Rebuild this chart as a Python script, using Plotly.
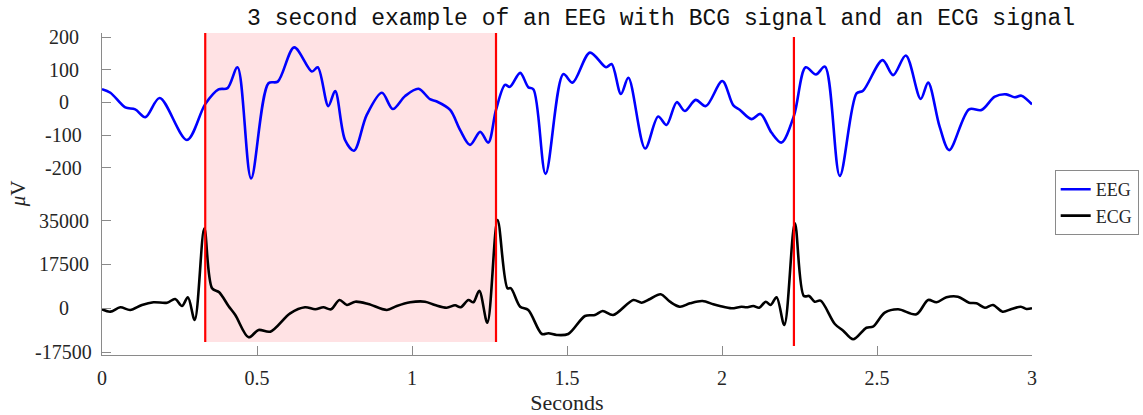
import plotly.graph_objects as go
from plotly.subplots import make_subplots

# EEG channel (µV) sampled along the 3 s window
eeg_t = [0, 0.027, 0.075, 0.107, 0.14, 0.186, 0.274, 0.333, 0.376, 0.405, 0.437, 0.481, 0.537, 0.567,
         0.620, 0.677, 0.696, 0.730, 0.752, 0.784, 0.813, 0.854, 0.903, 0.938, 0.978, 1.021, 1.058,
         1.080, 1.123, 1.155, 1.187, 1.220, 1.246, 1.271, 1.300, 1.316, 1.349, 1.375, 1.392, 1.431,
         1.488, 1.518, 1.574, 1.626, 1.644, 1.674, 1.698, 1.752, 1.794, 1.821, 1.854, 1.880, 1.915,
         1.948, 2.001, 2.036, 2.058, 2.095, 2.124, 2.160, 2.192, 2.232, 2.270, 2.303, 2.332, 2.380,
         2.434, 2.455, 2.518, 2.552, 2.593, 2.641, 2.665, 2.702, 2.733, 2.797, 2.837, 2.880, 2.917,
         2.944, 2.966, 3.0]
eeg_uv = [41, 30, -15, -21, -45, 14, -115, -5, 40, 44, 108, -233, 59, 64,
          169, 95, 108, -11, 35, -115, -148, -38, 30, -20, 20, 42, 10,
          3, -23, -84, -130, -90, -123, -23, 54, 48, 91, 47, 40, -219,
          87, 61, 153, 108, 118, 26, 76, -141, -43, -69, 1, -26, 8,
          -11, 66, -8, -23, -51, -35, -93, -123, -41, 108, 86, 110, -225,
          28, 36, 130, 84, 144, 11, 61, -74, -146, -21, -23, 18, 25,
          16, 21, -6]

# ECG channel (µV)
ecg_t = [0, 0.027, 0.059, 0.091, 0.129, 0.166, 0.210, 0.236, 0.258, 0.277,
         0.299, 0.330, 0.355, 0.378, 0.408, 0.430, 0.473, 0.505, 0.543, 0.607,
         0.655, 0.688, 0.714, 0.739, 0.766, 0.790, 0.817, 0.859, 0.919, 0.951,
         0.994, 1.042, 1.074, 1.112, 1.139, 1.157, 1.182, 1.198, 1.217, 1.243,
         1.276, 1.308, 1.319, 1.349, 1.375, 1.419, 1.440, 1.467, 1.504, 1.558,
         1.590, 1.615, 1.649, 1.714, 1.741, 1.768, 1.802, 1.832, 1.864, 1.897,
         1.937, 1.972, 1.993, 2.031, 2.063, 2.079, 2.101, 2.120, 2.141, 2.157,
         2.176, 2.201, 2.235, 2.264, 2.281, 2.299, 2.318, 2.364, 2.391, 2.423,
         2.466, 2.487, 2.525, 2.568, 2.627, 2.665, 2.692, 2.724, 2.761, 2.797,
         2.821, 2.848, 2.874, 2.905, 2.934, 2.964, 2.982, 3.0]
ecg_uv = [-400, -1350, 400, -680, 1320, 2400, 2240, 3700, 920, 4400,
          -4670, 31960, 8000, 6400, 920, -2680, -11590, -8670, -9330, -2000,
          400, -400, 400, -400, 3320, 1320, 2640, 1720, -680, 920,
          2400, 2640, 1320, 240, 1200, 400, 3320, 2400, 7030, -5750,
          35280, 8000, 8000, 640, -680, -10270, -9990, -10670, -10270, -3080,
          -2680, -1080, -2680, 3320, 2240, 3720, 5590, 2640, 640, 2000,
          2920, 1600, 920, 0, 640, 400, 920, 240, 2640, 1320,
          4400, -6670, 33960, 4910, 4910, 2640, 3040, -6270, -8950, -12380,
          -7750, -7350, -1760, -400, -2400, 3320, 2400, 4400, 4630, 2240,
          2000, 240, 1320, -1350, -280, 640, -280, 0]

# detected R-peak times (s); the first two bound one cardiac cycle
r_peak_times = [0.333, 1.271, 2.232]

x_ticks = [0, 0.5, 1, 1.5, 2, 2.5, 3]
x_tick_labels = ["0", "0.5", "1", "1.5", "2", "2.5", "3"]
eeg_ticks = [-200, -100, 0, 100, 200]
ecg_ticks = [-17500, 0, 17500, 35000]

SERIF = "Liberation Serif, Times New Roman, serif"
AXIS_GREY = "#8a8a8a"
LABEL_GREY = "#262626"
TICK_FONT = dict(family=SERIF, size=20, color=LABEL_GREY)

fig = make_subplots(rows=2, cols=1, shared_xaxes=True, vertical_spacing=0,
                    row_heights=[0.503, 0.497])

fig.add_trace(go.Scatter(x=eeg_t, y=eeg_uv, name="EEG", mode="lines",
                         line=dict(color="#0000ff", width=2.6, shape="spline", smoothing=0.9)),
              row=1, col=1)
fig.add_trace(go.Scatter(x=ecg_t, y=ecg_uv, name="ECG", mode="lines",
                         line=dict(color="#000000", width=2.6, shape="spline", smoothing=0.9)),
              row=2, col=1)

# one cardiac cycle highlighted between consecutive R-peaks
fig.add_shape(type="rect", xref="x", yref="paper",
              x0=r_peak_times[0], x1=r_peak_times[1], y0=0.0404, y1=1.0,
              fillcolor="#ffe2e4", line_width=0, layer="below")
for i, tp in enumerate(r_peak_times):
    y0, y1 = (0.0404, 1.0) if i < 2 else (0.028, 0.9876)
    fig.add_shape(type="line", xref="x", yref="paper", x0=tp, x1=tp, y0=y0, y1=y1,
                  line=dict(color="#ff0000", width=2.2), layer="above")

common_axis = dict(showline=True, linecolor=AXIS_GREY, linewidth=1.2, ticks="inside",
                   ticklen=9, tickcolor=AXIS_GREY, showgrid=False, zeroline=False,
                   tickfont=TICK_FONT)

fig.update_xaxes(range=[0, 3], **common_axis)
fig.update_xaxes(showline=False, ticks="", showticklabels=False, row=1, col=1)
fig.update_xaxes(tickvals=x_ticks, ticktext=x_tick_labels, ticklabelstandoff=5, row=2, col=1,
                 title=dict(text="Seconds", standoff=6,
                            font=dict(family=SERIF, size=22, color=LABEL_GREY)))

fig.update_yaxes(range=[-283.7, 213.2], tickvals=eeg_ticks, showticklabels=False,
                 row=1, col=1, **common_axis)
fig.update_yaxes(range=[-18657, 45264], tickvals=ecg_ticks, showticklabels=False,
                 row=2, col=1, **common_axis)

# centred y tick labels, placed on each axis' own scale
for yref, ticks in (("y", eeg_ticks), ("y2", ecg_ticks)):
    for v in ticks:
        fig.add_annotation(text=str(v), xref="paper", yref=yref, x=-0.041, y=v,
                           showarrow=False, xanchor="center", yanchor="middle",
                           font=TICK_FONT)

fig.add_annotation(text="<i>μ</i>V", xref="paper", yref="paper", x=-0.09, y=0.5,
                   textangle=-90, showarrow=False, xanchor="center", yanchor="middle",
                   font=dict(family=SERIF, size=21, color=LABEL_GREY))

fig.update_layout(
    width=1143, height=415,
    margin=dict(l=102, r=111, t=33, b=60, autoexpand=False),
    paper_bgcolor="white", plot_bgcolor="white",
    title=dict(text="3 second example of an EEG with BCG signal and an ECG signal",
               xref="container", yref="container", x=0.5784, y=0.959,
               xanchor="center", yanchor="middle",
               font=dict(family="Courier New, Liberation Mono, monospace", size=23, color="#111111")),
    legend=dict(x=1.0244, y=0.5745, xanchor="left", yanchor="top",
                bordercolor=AXIS_GREY, borderwidth=1, bgcolor="white",
                font=dict(family=SERIF, size=18, color=LABEL_GREY),
                itemwidth=30, tracegroupgap=0),
    showlegend=True,
)

fig.write_html("out.html")
